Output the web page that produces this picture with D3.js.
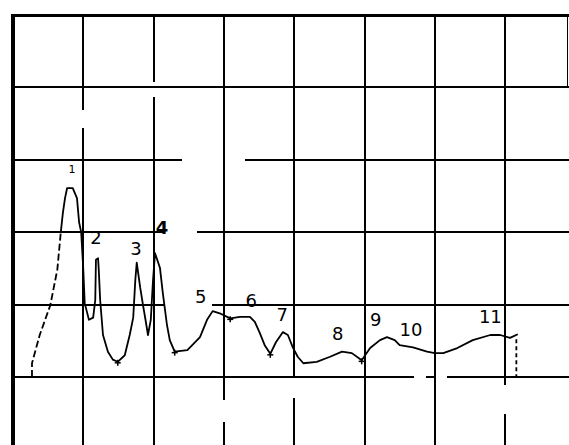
<!DOCTYPE html>
<html>
<head>
<meta charset="utf-8">
<script src="https://cdn.jsdelivr.net/npm/d3@7"></script>
<style>
  html, body { margin: 0; padding: 0; background: #fff; }
  svg { display: block; }
</style>
</head>
<body>
<svg id="chart" width="569" height="445"></svg>
<script>
// Chromatogram trace: retention time and detector signal, both in chart divisions
const traceTime = [
  0.27, 0.27, 0.38, 0.53, 0.63, 0.68, 0.71, 0.74, 0.77, 0.85,
  0.91, 0.94, 0.97, 1.00, 1.02, 1.08, 1.14, 1.17, 1.18, 1.21,
  1.22, 1.24, 1.28, 1.35, 1.42, 1.49, 1.59, 1.66, 1.71, 1.74,
  1.76, 1.81, 1.85, 1.89, 1.92, 1.96, 1.99, 2.02, 2.09, 2.13,
  2.19, 2.23, 2.30, 2.48, 2.66, 2.76, 2.84, 2.94, 3.09, 3.23,
  3.37, 3.44, 3.51, 3.58, 3.66, 3.74, 3.84, 3.91, 3.98, 4.05,
  4.13, 4.32, 4.51, 4.68, 4.82, 4.96, 5.08, 5.22, 5.32, 5.43,
  5.50, 5.69, 5.89, 6.00, 6.12, 6.32, 6.54, 6.79, 6.93, 7.07,
  7.18
];
const traceSignal = [
  1.00, 1.19, 1.58, 1.99, 2.48, 3.00, 3.27, 3.47, 3.61, 3.61,
  3.47, 3.14, 3.00, 2.48, 2.02, 1.79, 1.82, 2.06, 2.62, 2.64,
  2.48, 2.06, 1.58, 1.35, 1.24, 1.21, 1.30, 1.58, 1.82, 2.34,
  2.58, 2.23, 1.99, 1.76, 1.58, 1.79, 2.31, 2.71, 2.51, 2.17,
  1.72, 1.51, 1.35, 1.37, 1.55, 1.79, 1.91, 1.88, 1.81, 1.83,
  1.83, 1.76, 1.61, 1.44, 1.32, 1.48, 1.62, 1.58, 1.41, 1.28,
  1.19, 1.21, 1.28, 1.35, 1.33, 1.23, 1.40, 1.51, 1.55, 1.51,
  1.44, 1.41, 1.35, 1.33, 1.33, 1.40, 1.51, 1.58, 1.58, 1.54,
  1.59
];
// Number of points on the rising front of peak 1 (drawn broken by the pen)
const frontCount = 6;

// Peak numbers and where each one is written
const peakNumbers     = ["1", "2", "3", "4", "5", "6", "7", "8", "9", "10", "11"];
const peakLabelTime   = [0.84, 1.18, 1.75, 2.12, 2.67, 3.39, 3.83, 4.62, 5.16, 5.66, 6.79];
const peakLabelSignal = [3.87, 2.92, 2.78, 3.06, 2.11, 2.06, 1.86, 1.60, 1.79, 1.65, 1.83];

// Small integrator marks under the valleys
const markTime   = [1.49, 2.30, 3.09, 3.66, 4.96];
const markSignal = [1.21, 1.35, 1.81, 1.32, 1.23];

// End-of-run marker (dotted drop to the baseline)
const endTime = 7.16;
const endSignal = [1.52, 1.00];

// Chart paper divisions
const timeDivisions   = [1, 2, 3, 4, 5, 6, 7];
const signalDivisions = [1, 2, 3, 4, 5];

// Interrupted stretches of the printed rulings: [division, from, to]
const verticalGaps = [
  [1, 4.44, 4.69],
  [2, 4.87, 5.08],
  [3, 0.38, 0.68],
  [4, 0.71, 1.00],
  [7, 0.49, 0.89]
];
const horizontalGaps = [
  [4, 2.40, 3.30],
  [3, 2.16, 2.62],
  [2, 2.16, 2.83],
  [1, 5.70, 5.88],
  [1, 6.02, 6.17]
];

const svg = d3.select("#chart");
const W = 569, H = 445;

const x = d3.scaleLinear().domain([0, 8]).range([13, 575.4]);
const y = d3.scaleLinear().domain([0, 6]).range([449.4, 15]);

const tMax = x.invert(W), sMin = y.invert(H);

// Split a ruling into visible pieces around its gaps
function pieces(lo, hi, gaps) {
  const out = [];
  let start = lo;
  gaps.slice().sort((a, b) => a[0] - b[0]).forEach(([a, b]) => {
    if (a > start) out.push([start, a]);
    start = Math.max(start, b);
  });
  if (start < hi) out.push([start, hi]);
  return out;
}

const grid = svg.append("g")
  .attr("stroke", "#000")
  .attr("stroke-width", 2)
  .attr("shape-rendering", "crispEdges");

timeDivisions.forEach(t => {
  const gaps = verticalGaps.filter(g => g[0] === t).map(g => [g[1], g[2]]);
  pieces(sMin, 6, gaps).forEach(([a, b]) => {
    grid.append("line")
      .attr("x1", x(t)).attr("x2", x(t))
      .attr("y1", y(a)).attr("y2", y(b));
  });
});

signalDivisions.forEach(s => {
  const gaps = horizontalGaps.filter(g => g[0] === s).map(g => [g[1], g[2]]);
  pieces(0, tMax, gaps).forEach(([a, b]) => {
    grid.append("line")
      .attr("x1", x(a)).attr("x2", x(b))
      .attr("y1", y(s)).attr("y2", y(s));
  });
});

// Frame: heavy left edge and top edge, short right edge on the top row
grid.append("line")
  .attr("x1", x(0)).attr("x2", x(0))
  .attr("y1", y(6) - 1).attr("y2", H)
  .attr("stroke-width", 4);
grid.append("line")
  .attr("x1", x(0)).attr("x2", W)
  .attr("y1", y(6)).attr("y2", y(6))
  .attr("stroke-width", 3);
grid.append("line")
  .attr("x1", W - 1.5).attr("x2", W - 1.5)
  .attr("y1", y(6)).attr("y2", y(5))
  .attr("stroke-width", 1.5);

// Trace
const pts = traceTime.map((t, i) => [t, traceSignal[i]]);
const line = d3.line()
  .x(d => x(d[0]))
  .y(d => y(d[1]))
  .curve(d3.curveLinear);

const trace = svg.append("g")
  .attr("fill", "none")
  .attr("stroke", "#000")
  .attr("stroke-width", 1.8)
  .attr("stroke-linejoin", "round");

trace.append("path")
  .attr("d", line(pts.slice(0, frontCount)))
  .attr("stroke-dasharray", "7,3");
trace.append("path")
  .attr("d", line(pts.slice(frontCount - 1)));

// Dotted drop at the end of the run
trace.append("line")
  .attr("x1", x(endTime)).attr("x2", x(endTime))
  .attr("y1", y(endSignal[0])).attr("y2", y(endSignal[1]))
  .attr("stroke-dasharray", "4,3");

// Valley marks
const marks = svg.append("g").attr("stroke", "#000").attr("stroke-width", 1.5);
markTime.forEach((t, i) => {
  const cx = x(t), cy = y(markSignal[i]);
  marks.append("line").attr("x1", cx).attr("x2", cx).attr("y1", cy - 2).attr("y2", cy + 4);
  marks.append("line").attr("x1", cx - 3).attr("x2", cx + 3).attr("y1", cy + 1).attr("y2", cy + 1);
});

// Peak numbers
svg.append("g")
  .selectAll("text")
  .data(peakNumbers)
  .join("text")
  .attr("x", (d, i) => x(peakLabelTime[i]))
  .attr("y", (d, i) => y(peakLabelSignal[i]))
  .attr("text-anchor", "middle")
  .attr("dominant-baseline", "central")
  .attr("font-family", "DejaVu Sans, sans-serif")
  .attr("font-size", d => d === "1" ? 11 : 18)
  .attr("font-weight", d => d === "4" ? "bold" : "normal")
  .attr("fill", "#000")
  .text(d => d);
</script>
</body>
</html>
